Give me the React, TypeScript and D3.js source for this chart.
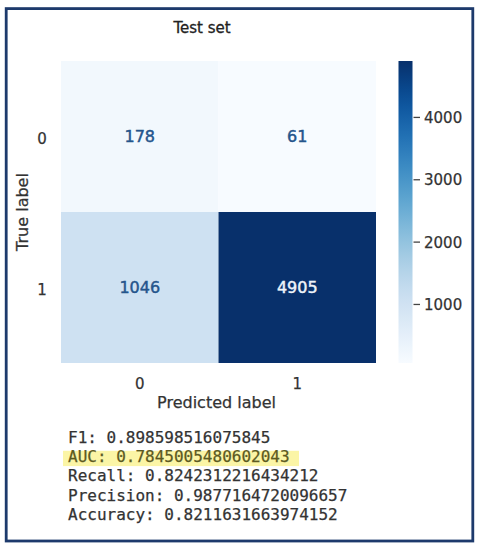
import React from "react";
import * as d3 from "d3";

const predictedLabels = ["0", "1"];
const trueLabels = ["0", "1"];
const row0Values = [178, 61];
const row1Values = [1046, 4905];
const matrixRows = [row0Values, row1Values];
const colorbarTicks = [1000, 2000, 3000, 4000];
const metricNames = ["F1", "AUC", "Recall", "Precision", "Accuracy"];
const metricValues = [
  "0.898598516075845",
  "0.7845005480602043",
  "0.8242312216434212",
  "0.9877164720096657",
  "0.8211631663974152",
];
const highlightedMetric = "AUC";
const titleText = "Test set";
const xAxisTitle = "Predicted label";
const yAxisTitle = "True label";

const W = 478;
const H = 550;
const FONT = "'DejaVu Sans', sans-serif";
const MONO = "'DejaVu Sans Mono', monospace";

export default function App() {
  const cells = matrixRows.flatMap((row, i) =>
    row.map((v, j) => ({ t: trueLabels[i], p: predictedLabels[j], v }))
  );
  const allVals = cells.map((c) => c.v);
  const vmin = d3.min(allVals) as number;
  const vmax = d3.max(allVals) as number;

  const x = d3.scaleBand<string>().domain(predictedLabels).range([61, 376]);
  const y = d3.scaleBand<string>().domain(trueLabels).range([61, 363]);
  const color = d3.scaleSequential(d3.interpolateBlues).domain([vmin, vmax]);
  const cb = d3.scaleLinear().domain([vmin, vmax]).range([363, 61]);
  const stops = d3.range(0, 1.0001, 0.05);

  const metricY = d3
    .scaleBand<string>()
    .domain(metricNames)
    .range([428.5, 525])
    .paddingInner(0);

  const hiIdx = metricNames.indexOf(highlightedMetric);
  const lab = "#333";

  return (
    <svg
      width={W}
      height={H}
      style={{ position: "absolute", left: 0, top: 0, background: "#fff" }}
    >
      <defs>
        <linearGradient id="cbgrad" x1="0" y1="1" x2="0" y2="0">
          {stops.map((s) => (
            <stop key={s} offset={s} stopColor={d3.interpolateBlues(s)} />
          ))}
        </linearGradient>
      </defs>
      <rect x={0} y={0} width={W} height={H} fill="#fff" />
      <rect
        x={6.2}
        y={8.6}
        width={466.6}
        height={532.4}
        fill="#fff"
        stroke="#1d3a6c"
        strokeWidth={2.8}
      />

      <text
        x={202}
        y={33}
        textAnchor="middle"
        fontFamily={FONT}
        fontSize={15}
        fill="#222"
        stroke="#222"
        strokeWidth={0.3}
      >
        {titleText}
      </text>

      {cells.map((c, k) => (
        <rect
          key={"c" + k}
          x={x(c.p)}
          y={y(c.t)}
          width={x.bandwidth()}
          height={y.bandwidth()}
          fill={color(c.v)}
        />
      ))}
      {cells.map((c, k) => {
        const fc = (c.v - vmin) / (vmax - vmin) > 0.5 ? "#eef3f9" : "#24558c";
        return (
          <text
            key={"t" + k}
            x={(x(c.p) as number) + x.bandwidth() / 2}
            y={(y(c.t) as number) + y.bandwidth() / 2}
            dy="0.36em"
            textAnchor="middle"
            fontFamily={FONT}
            fontSize={16}
            fill={fc}
            stroke={fc}
            strokeWidth={0.45}
          >
            {c.v}
          </text>
        );
      })}

      {trueLabels.map((t) => (
        <text
          key={"yt" + t}
          x={42}
          y={(y(t) as number) + y.bandwidth() / 2 + 2}
          dy="0.36em"
          textAnchor="middle"
          fontFamily={FONT}
          fontSize={15}
          fill={lab}
          stroke={lab}
          strokeWidth={0.25}
        >
          {t}
        </text>
      ))}
      {predictedLabels.map((p) => (
        <text
          key={"xt" + p}
          x={(x(p) as number) + x.bandwidth() / 2}
          y={389}
          textAnchor="middle"
          fontFamily={FONT}
          fontSize={15}
          fill={lab}
          stroke={lab}
          strokeWidth={0.25}
        >
          {p}
        </text>
      ))}
      <text
        x={216.5}
        y={408}
        textAnchor="middle"
        fontFamily={FONT}
        fontSize={16}
        fill={lab}
        stroke={lab}
        strokeWidth={0.25}
      >
        {xAxisTitle}
      </text>
      <text
        transform={`translate(28,212) rotate(-90)`}
        textAnchor="middle"
        fontFamily={FONT}
        fontSize={16}
        fill={lab}
        stroke={lab}
        strokeWidth={0.25}
      >
        {yAxisTitle}
      </text>

      <rect x={398.5} y={61} width={14} height={302} fill="url(#cbgrad)" />
      {colorbarTicks.map((t) => (
        <g key={"cb" + t}>
          <line
            x1={413.5}
            x2={420}
            y1={cb(t)}
            y2={cb(t)}
            stroke="#444"
            strokeWidth={1.3}
          />
          <text
            x={424}
            y={cb(t)}
            dy="0.36em"
            fontFamily={FONT}
            fontSize={15}
            fill={lab}
            stroke={lab}
            strokeWidth={0.25}
          >
            {t}
          </text>
        </g>
      ))}

      {hiIdx >= 0 && (
        <rect
          x={63}
          y={(metricY(highlightedMetric) as number) + 3}
          width={236}
          height={metricY.bandwidth() - 4}
          fill="#fbf5a6"
        />
      )}
      {metricNames.map((m, i) => {
        const fc = m === highlightedMetric ? "#5c5a22" : "#333";
        return (
          <text
            key={"m" + m}
            x={68}
            y={(metricY(m) as number) + metricY.bandwidth() - 5}
            fontFamily={MONO}
            fontSize={16}
            fill={fc}
            stroke={fc}
            strokeWidth={0.25}
            style={{ whiteSpace: "pre" }}
          >
            {`${m}: ${metricValues[i]}`}
          </text>
        );
      })}
    </svg>
  );
}
